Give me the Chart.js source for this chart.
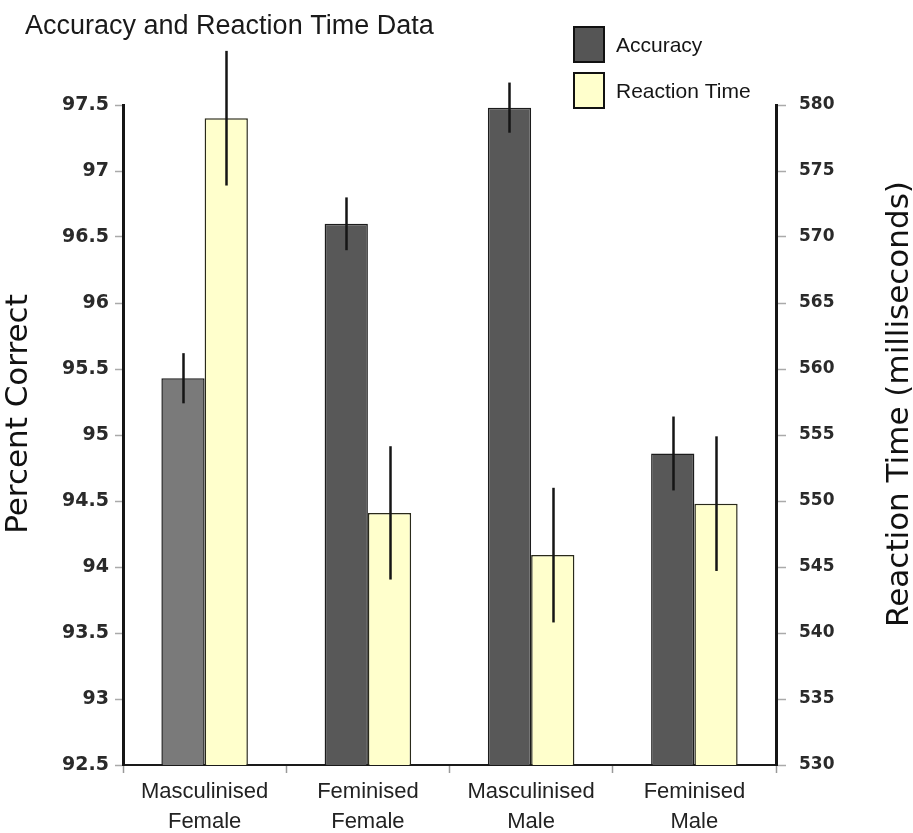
<!DOCTYPE html>
<html>
<head>
<meta charset="utf-8">
<script src="https://cdn.jsdelivr.net/npm/chart.js@4/dist/chart.umd.min.js"></script>
<style>
  html, body { margin: 0; padding: 0; background: #fff; }
  #wrap { width: 913px; height: 833px; position: relative; }
</style>
</head>
<body>
<div id="wrap"><canvas id="c"></canvas></div>
<script>
// Conditions on the x axis
const categories = [
  ['Masculinised', 'Female'],
  ['Feminised', 'Female'],
  ['Masculinised', 'Male'],
  ['Feminised', 'Male']
];

// Percent correct, with error half-widths
const accuracy = [95.43, 96.60, 97.48, 94.86];
const accuracyErr = [0.19, 0.20, 0.19, 0.28];

// Reaction time in ms, with error half-widths
const reactionTime = [579.0, 549.1, 545.9, 549.8];
const reactionErr = [5.1, 5.05, 5.1, 5.1];

// Axis ranges
const accTicks = { min: 92.5, max: 97.5, step: 0.5 };
const rtTicks = { min: 530, max: 580, step: 5 };

const sans = '"Liberation Sans", Arial, sans-serif';
const wide = '"DejaVu Sans", Verdana, sans-serif';

// Vertical error lines drawn on each bar
const errorBars = {
  id: 'errorBars',
  afterDatasetsDraw(chart) {
    const ctx = chart.ctx;
    const errs = [accuracyErr, reactionErr];
    chart.data.datasets.forEach((ds, di) => {
      const meta = chart.getDatasetMeta(di);
      const scale = chart.scales[ds.yAxisID];
      meta.data.forEach((bar, i) => {
        const v = ds.data[i], e = errs[di][i];
        const y1 = scale.getPixelForValue(v + e);
        const y2 = scale.getPixelForValue(v - e);
        ctx.save();
        ctx.strokeStyle = '#151515';
        ctx.lineWidth = 2.5;
        ctx.beginPath();
        ctx.moveTo(Math.round(bar.x) + 0.5, y1);
        ctx.lineTo(Math.round(bar.x) + 0.5, y2);
        ctx.stroke();
        ctx.restore();
      });
    });
  }
};

// Title, legend and the two axis titles
const decorations = {
  id: 'decorations',
  afterDraw(chart) {
    const ctx = chart.ctx;
    ctx.save();
    // title
    ctx.fillStyle = '#1a1a1a';
    ctx.font = '27px ' + sans;
    ctx.textAlign = 'left';
    ctx.textBaseline = 'alphabetic';
    ctx.fillText('Accuracy and Reaction Time Data', 25, 34);

    // legend
    const items = [
      { label: chart.data.datasets[0].label, color: '#555555', y: 27 },
      { label: chart.data.datasets[1].label, color: '#ffffcc', y: 73 }
    ];
    items.forEach(it => {
      ctx.fillStyle = it.color;
      ctx.fillRect(574, it.y, 30, 35);
      ctx.strokeStyle = '#111';
      ctx.lineWidth = 2;
      ctx.strokeRect(574, it.y, 30, 35);
      ctx.fillStyle = '#151515';
      ctx.font = '21px ' + sans;
      ctx.textBaseline = 'middle';
      ctx.fillText(it.label, 616, it.y + 19);
    });

    // axis titles
    ctx.font = '31px ' + wide;
    ctx.fillStyle = '#111';
    ctx.textAlign = 'center';
    ctx.textBaseline = 'middle';
    ctx.save();
    ctx.translate(19, 414);
    ctx.rotate(-Math.PI / 2);
    ctx.fillText('Percent Correct', 0, 0);
    ctx.restore();
    ctx.save();
    ctx.translate(900, 404);
    ctx.rotate(-Math.PI / 2);
    ctx.fillText('Reaction Time (milliseconds)', 0, 0);
    ctx.restore();
    ctx.restore();
  }
};

new Chart(document.getElementById('c'), {
  type: 'bar',
  data: {
    labels: categories,
    datasets: [
      {
        label: 'Accuracy',
        data: accuracy,
        yAxisID: 'y',
        backgroundColor: ['#7a7a7a', '#585858', '#585858', '#585858'],
        borderColor: '#1c1c1c',
        borderWidth: 1.5,
        categoryPercentage: 0.53,
        barPercentage: 1.0
      },
      {
        label: 'Reaction Time',
        data: reactionTime,
        yAxisID: 'y1',
        backgroundColor: '#ffffcc',
        borderColor: '#2a2a1a',
        borderWidth: 1.5,
        categoryPercentage: 0.53,
        barPercentage: 1.0
      }
    ]
  },
  options: {
    responsive: true,
    maintainAspectRatio: false,
    animation: false,
    layout: { padding: { top: 105, left: 0, right: 0, bottom: 0 } },
    plugins: {
      legend: { display: false },
      tooltip: { enabled: false },
      title: { display: false }
    },
    scales: {
      x: {
        offset: true,
        grid: {
          display: true,
          offset: true,
          drawOnChartArea: false,
          tickLength: 8,
          tickColor: '#999',
          tickWidth: 1.5
        },
        border: { display: true, color: '#1a1a1a', width: 2 },
        ticks: {
          color: '#222',
          font: { family: sans, size: 22, lineHeight: 1.35 },
          padding: 4,
          maxRotation: 0,
          autoSkip: false
        },
        afterFit(scale) { scale.height = 68; }
      },
      y: {
        position: 'left',
        min: accTicks.min,
        max: accTicks.max,
        grid: {
          drawOnChartArea: false,
          tickLength: 8,
          tickColor: '#aaa',
          tickWidth: 1.5
        },
        border: { display: true, color: '#151515', width: 3 },
        ticks: {
          stepSize: accTicks.step,
          color: '#2a2a2a',
          font: { family: wide, size: 19, weight: 'bold' },
          padding: 6,
          callback: v => String(+Number(v).toFixed(1))
        },
        afterFit(scale) { scale.width = 123; }
      },
      y1: {
        position: 'right',
        min: rtTicks.min,
        max: rtTicks.max,
        grid: {
          drawOnChartArea: false,
          tickLength: 10,
          tickColor: '#aaa',
          tickWidth: 1.5
        },
        border: { display: true, color: '#151515', width: 3 },
        ticks: {
          stepSize: rtTicks.step,
          color: '#2a2a2a',
          font: { family: wide, size: 17, weight: 'bold' },
          padding: 13
        },
        afterFit(scale) { scale.width = 137; }
      }
    }
  },
  plugins: [errorBars, decorations]
});
</script>
</body>
</html>
